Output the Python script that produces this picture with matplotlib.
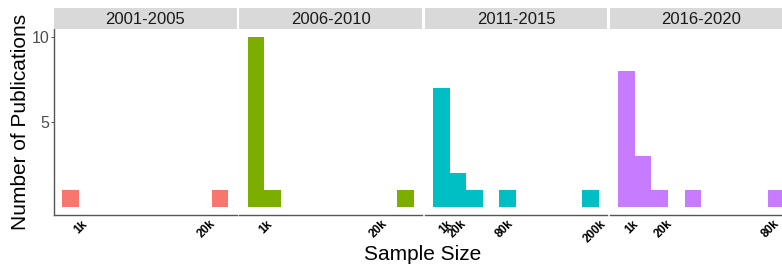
import matplotlib

matplotlib.use("Agg")
import matplotlib.pyplot as plt
import matplotlib.transforms as mtransforms
import numpy as np

plt.rcParams["font.family"] = ["Liberation Sans", "DejaVu Sans"]

# one facet per period, 10 histogram bins each (free x scale)
periods = ["2001-2005", "2006-2010", "2011-2015", "2016-2020"]
colors = ["#F8766D", "#7CAE00", "#00BFC4", "#C77CFF"]
counts_2001_2005 = [1, 0, 0, 0, 0, 0, 0, 0, 0, 1]
counts_2006_2010 = [10, 1, 0, 0, 0, 0, 0, 0, 0, 1]
counts_2011_2015 = [7, 2, 1, 0, 1, 0, 0, 0, 0, 1]
counts_2016_2020 = [8, 3, 1, 0, 1, 0, 0, 0, 0, 1]
bin_widths = [2460, 2730, 21500, 9330]
x_breaks = [
    [1000, 20000],
    [1000, 20000],
    [1000, 20000, 80000, 200000],
    [1000, 20000, 80000],
]
x_break_labels = [
    ["1k", "20k"],
    ["1k", "20k"],
    ["1k", "20k", "80k", "200k"],
    ["1k", "20k", "80k"],
]
y_breaks = [5, 10]

W, H = 782, 266


def main() -> None:
    fig = plt.figure(figsize=(W / 100, H / 100), dpi=100)
    all_counts = [counts_2001_2005, counts_2006_2010, counts_2011_2015, counts_2016_2020]

    panel_w = 182.6
    gap = 2.7
    bottom_px, top_px, strip_top_px = 215, 29, 8
    shift = mtransforms.ScaledTranslation(4 / 100, 0, fig.dpi_scale_trans)

    for i, period in enumerate(periods):
        left_px = 54 + i * (panel_w + gap)
        ax = fig.add_axes([
            left_px / W,
            (H - bottom_px) / H,
            panel_w / W,
            (bottom_px - top_px) / H,
        ])
        w = bin_widths[i]
        centers = np.arange(len(all_counts[i])) * w
        ax.bar(centers, all_counts[i], width=w, color=colors[i], linewidth=0)
        ax.set_xlim(-w, 10 * w)
        ax.set_ylim(-0.5, 10.5)

        for side in ["top", "right"]:
            ax.spines[side].set_visible(False)
        ax.spines["bottom"].set_color("#555555")
        ax.spines["bottom"].set_linewidth(1.0)
        if i == 0:
            ax.spines["left"].set_color("#555555")
            ax.spines["left"].set_linewidth(1.0)
            ax.set_yticks(y_breaks, [str(v) for v in y_breaks])
            ax.tick_params(axis="y", length=2, width=0.6, color="#333333",
                           pad=1.5, labelsize=11.5, labelcolor="#4D4D4D")
        else:
            ax.spines["left"].set_visible(False)
            ax.set_yticks([])

        ax.set_xticks(x_breaks[i])
        ax.set_xticklabels(x_break_labels[i], rotation=45, ha="right", va="top",
                           rotation_mode="anchor", fontsize=8.5,
                           fontweight="bold", color="black")
        ax.tick_params(axis="x", length=0, pad=2)
        for label in ax.get_xticklabels():
            label.set_transform(label.get_transform() + shift)

        strip = fig.add_axes([
            left_px / W,
            (H - top_px) / H,
            panel_w / W,
            (top_px - strip_top_px) / H,
        ])
        strip.set_facecolor("#D9D9D9")
        strip.set_xticks([])
        strip.set_yticks([])
        for spine in strip.spines.values():
            spine.set_visible(False)
        strip.text(0.5, 0.45, period, ha="center", va="center",
                   fontsize=12, color="#1A1A1A", transform=strip.transAxes)

    fig.text(20.5 / W, 1 - 122 / H, "Number of Publications", rotation=90,
             ha="center", va="center", fontsize=15)
    fig.text(423 / W, 1 - 254 / H, "Sample Size", ha="center", va="center",
             fontsize=15)

    fig.savefig("out.png", dpi=100)


if __name__ == "__main__":
    main()
